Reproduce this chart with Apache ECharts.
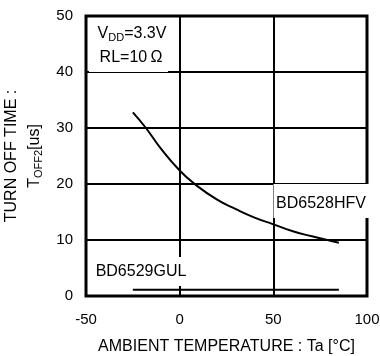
<!DOCTYPE html>
<html><head><meta charset="utf-8">
<script src="https://cdn.jsdelivr.net/npm/echarts@6/dist/echarts.min.js"></script>
<style>html,body{margin:0;padding:0;background:#fff}#c{width:380px;height:356px}</style>
</head><body><div id="c"></div>
<script>
var xTicks = [-50, 0, 50, 100];
var yTicks = [0, 10, 20, 30, 40, 50];
var hfvTemp = [-25, -18, -10, 0, 8, 20, 30, 40, 50, 60, 70, 85];
var hfvVal  = [32.8, 30, 26.3, 22.4, 20, 17.2, 15.5, 14, 12.8, 11.6, 10.7, 9.5];
var gulTemp = [-25, 85];
var gulVal  = [1.1, 1.1];

var chart = echarts.init(document.getElementById('c'));
var F = 'Liberation Sans, Arial, sans-serif';
function pairs(a, b) { return a.map(function (v, i) { return [v, b[i]]; }); }
var split = { show: true, showMinLine: true, showMaxLine: true, lineStyle: { color: '#000', width: 2 } };
var sub = { fontSize: 11, fontFamily: F, fill: '#000', padding: [7, 0, 0, 0] };
var main = { fontSize: 16, fontFamily: F, fill: '#000' };
chart.setOption({
  animation: false,
  backgroundColor: '#fff',
  grid: { left: 86, right: 13, top: 16, bottom: 60, containLabel: false, outerBoundsMode: 'none' },
  xAxis: {
    type: 'value', min: xTicks[0], max: xTicks[xTicks.length - 1], interval: 50,
    axisLine: { show: false }, axisTick: { show: false }, splitLine: split,
    axisLabel: { color: '#000', fontSize: 15, fontFamily: F, margin: 16 },
    name: 'AMBIENT TEMPERATURE : Ta [°C]', nameLocation: 'middle', nameGap: 43,
    nameTextStyle: { color: '#000', fontSize: 16, fontFamily: F }
  },
  yAxis: {
    type: 'value', min: yTicks[0], max: yTicks[yTicks.length - 1], interval: 10,
    axisLine: { show: false }, axisTick: { show: false }, splitLine: split,
    axisLabel: { color: '#000', fontSize: 15, fontFamily: F, margin: 13 }
  },
  series: [
    { type: 'line', data: pairs(hfvTemp, hfvVal), smooth: true, showSymbol: false,
      lineStyle: { color: '#000', width: 2 }, z: 3 },
    { type: 'line', data: pairs(gulTemp, gulVal), showSymbol: false,
      lineStyle: { color: '#000', width: 2 }, z: 3 }
  ]
});
var p0 = chart.convertToPixel({ gridIndex: 0 }, [xTicks[0], yTicks[0]]);
var p1 = chart.convertToPixel({ gridIndex: 0 }, [xTicks[xTicks.length - 1], yTicks[yTicks.length - 1]]);
chart.setOption({
  graphic: [
    { type: 'rect', shape: { x: p0[0], y: p1[1], width: p1[0] - p0[0], height: p0[1] - p1[1] },
      style: { fill: 'none', stroke: '#000', lineWidth: 3 }, z: 40 },
    { type: 'rect', shape: { x: 89, y: 22, width: 79, height: 50 }, style: { fill: '#fff' }, z: 50 },
    { type: 'text', x: 132, y: 34, z: 51, style: {
        text: '{a|V}{b|DD}{a|=3.3V}', align: 'center', verticalAlign: 'middle', rich: { a: main, b: sub } } },
    { type: 'text', x: 131, y: 58, z: 51, style: {
        text: 'RL=10\u2009Ω', align: 'center', verticalAlign: 'middle', font: '16px ' + F, fill: '#000' } },
    { type: 'rect', shape: { x: 273.5, y: 184, width: 100, height: 34 }, style: { fill: '#fff' }, z: 50 },
    { type: 'text', x: 321, y: 204, z: 51, style: {
        text: 'BD6528HFV', align: 'center', verticalAlign: 'middle', font: '16px ' + F, fill: '#000' } },
    { type: 'rect', shape: { x: 88, y: 257, width: 96, height: 29 }, style: { fill: '#fff' }, z: 50 },
    { type: 'text', x: 141, y: 272, z: 51, style: {
        text: 'BD6529GUL', align: 'center', verticalAlign: 'middle', font: '16px ' + F, fill: '#000' } },
    { type: 'text', x: 12, y: 156, rotation: Math.PI / 2, z: 51, style: {
        text: 'TURN OFF TIME :', align: 'center', verticalAlign: 'middle', font: '16px ' + F, fill: '#000' } },
    { type: 'text', x: 35, y: 156, rotation: Math.PI / 2, z: 51, style: {
        text: '{a|T}{b|OFF2}{a|[us]}', align: 'center', verticalAlign: 'middle', rich: { a: main, b: sub } } }
  ]
});
</script></body></html>
